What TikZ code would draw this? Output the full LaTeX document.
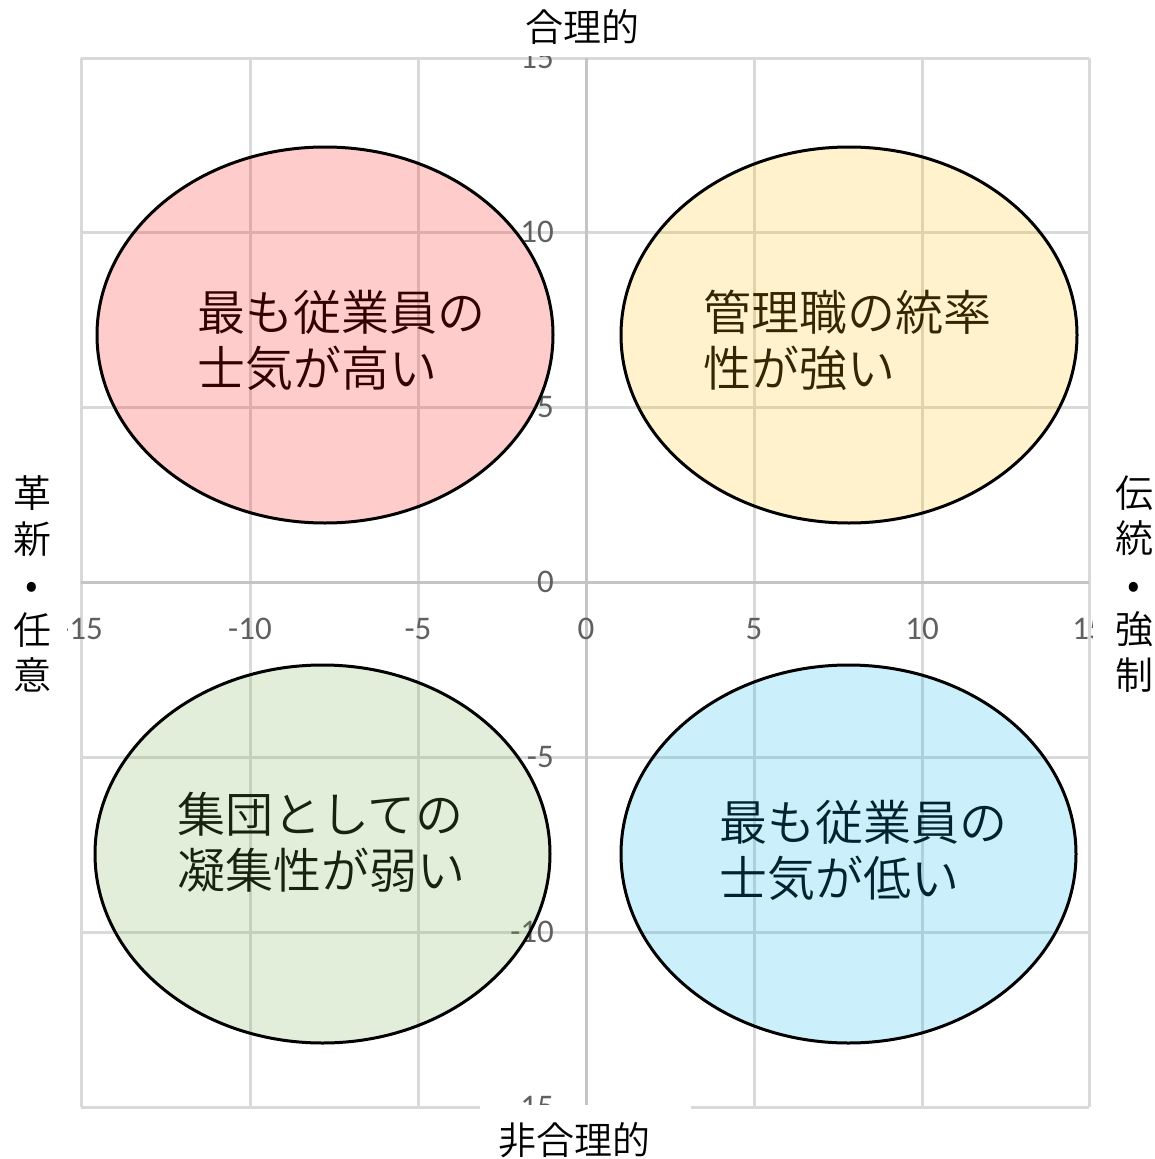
\documentclass[tikz,border=0pt]{standalone}
\usepackage{fontspec}
\usetikzlibrary{shapes.geometric}
\newfontfamily\jp{Noto Sans CJK JP DemiLight}
\newfontfamily\tickfont{Carlito}
\definecolor{gridc}{RGB}{217,217,217}
\definecolor{axisc}{RGB}{196,196,196}
\definecolor{tickc}{RGB}{96,96,96}
\definecolor{cred}{RGB}{255,0,0}
\definecolor{cyel}{RGB}{255,192,0}
\definecolor{cgrn}{RGB}{112,173,71}
\definecolor{cblu}{RGB}{0,176,240}
\tikzset{
  gridline/.style={draw=gridc, line width=3pt},
  axisline/.style={draw=axisc, line width=3pt},
  ticklab/.style={text=tickc, font=\tickfont\fontsize{33}{36}\selectfont, inner sep=0pt},
  mask/.style={fill=white, draw=none},
  axtitle/.style={font=\jp\fontsize{38}{45.5}\selectfont, inner sep=0pt, align=center},
  bubble/.style={ellipse, draw=black, line width=3pt, fill opacity=0.2, inner sep=0pt},
  bubtext/.style={font=\jp\fontsize{48}{56}\selectfont, inner sep=0pt, align=left, anchor=west},
}
\begin{document}
\begin{tikzpicture}[x=1pt,y=-1pt]
\useasboundingbox (0,0) rectangle (1155,1159);
\fill[white] (0,0) rectangle (1155,1159);
% grid
\foreach \gx in {81,250,418,754,922,1089} {\draw[gridline] (\gx,58) -- (\gx,1107);}
\foreach \gy in {58,232,407,757,932,1107} {\draw[gridline] (81,\gy) -- (1089,\gy);}
\draw[axisline] (586,58) -- (586,1107);
\draw[axisline] (81,582) -- (1089,582);
% tick labels y
\foreach \v/\gy [count=\i] in {15/58,10/232,5/407,0/582,-5/757,-10/932,-15/1107}
  {\node[ticklab, anchor=east] (ty\i) at (554,\gy) {\v};}
% tick labels x
\foreach \v/\gx [count=\i] in {-15/81,-10/250,-5/418,0/586,5/754,10/922,15/1089}
  {\node[ticklab] (tx\i) at (\gx,629) {\v};}
% masks for axis titles
\fill[mask] (480,0) rectangle (691,56);
\fill[mask] (480,1105) rectangle (691,1159);
\fill[mask] (0,440) rectangle (67,720);
\fill[mask] (1093,440) rectangle (1155,720);
% axis titles
\node[axtitle] (top) at (582,27) {合理的};
\node[axtitle] (bottom) at (574,1140) {非合理的};
\node[axtitle] (left) at (32,584) {革\\新\\•\\任\\意};
\node[axtitle] (right) at (1134,584) {伝\\統\\•\\強\\制};
% bubbles
\node[bubble, fill=cred, minimum width=456pt, minimum height=376pt] (e1) at (325,335) {};
\node[bubble, fill=cyel, minimum width=456pt, minimum height=376pt] (e2) at (849,335) {};
\node[bubble, fill=cgrn, minimum width=455pt, minimum height=378pt] (e3) at (322.5,854) {};
\node[bubble, fill=cblu, minimum width=455pt, minimum height=378pt] (e4) at (848.5,854) {};
\node[bubtext, text=cred!20!black] (t1) at (197,340) {最も従業員の\\士気が高い};
\node[bubtext, text=cyel!20!black] (t2) at (703,340) {管理職の統率\\性が強い};
\node[bubtext, text=cgrn!20!black] (t3) at (177,842.5) {集団としての\\凝集性が弱い};
\node[bubtext, text=cblu!20!black] (t4) at (719,850) {最も従業員の\\士気が低い};
\end{tikzpicture}
\end{document}
